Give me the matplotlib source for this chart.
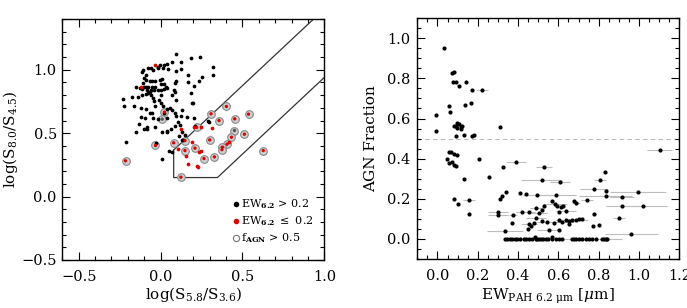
import matplotlib
matplotlib.use("Agg")
import matplotlib.pyplot as plt
from matplotlib.ticker import MultipleLocator
import numpy as np

plt.rcParams['font.family'] = ['DejaVu Serif']
plt.rcParams['mathtext.fontset'] = 'dejavuserif'

# ---------------- Left panel data: IRAC colour-colour ----------------
black_x = [0.096, 0.184, 0.239, 0.122, 0.071, 0.037, 0.024, -0.006, -0.014, -0.061,
           -0.078, -0.108, -0.047, -0.018, 0.012, 0.318, 0.043, 0.092, 0.122, 0.169,
           0.320, 0.255, 0.235, 0.092, 0.088, 0.202, 0.165, -0.092, -0.112, -0.100,
           -0.088, -0.067, -0.051, -0.031, -0.006, 0.008, 0.024, 0.031, -0.037, -0.055,
           -0.076, -0.086, -0.100, -0.112, -0.080, -0.059, -0.039, -0.018, 0.002, 0.018,
           0.002, -0.065, -0.076, -0.092, -0.124, -0.149, -0.108, 0.002, 0.041, 0.080,
           0.090, 0.071, -0.173, -0.137, -0.231, -0.224, -0.165, -0.116, -0.059, -0.047,
           -0.041, -0.010, 0.002, -0.120, -0.092, -0.031, 0.014, 0.039, 0.067, 0.022,
           0.088, 0.129, 0.200, 0.092, 0.037, 0.122, 0.161, -0.067, -0.051, -0.122,
           -0.096, -0.045, -0.016, -0.133, -0.084, -0.153, -0.210, -0.100, -0.084, -0.031,
           0.010, 0.039, 0.061, 0.088, 0.104, 0.120, 0.206, 0.292, 0.210, 0.129,
           0.149, 0.071, 0.051, -0.027, 0.010, 0.296, 0.039, 0.112, 0.129, 0.137,
           0.194, 0.184, 0.092, 0.055]
black_y = [1.126, 1.097, 1.100, 1.061, 1.061, 1.047, 1.039, 1.039, 1.026, 1.013,
           1.013, 1.000, 1.000, 1.013, 1.013, 1.026, 1.008, 0.987, 1.005, 0.958,
           0.961, 0.947, 0.908, 0.908, 0.895, 0.874, 0.900, 0.961, 0.979, 0.937,
           0.921, 0.908, 0.908, 0.913, 0.921, 0.929, 0.887, 0.863, 0.863, 0.861,
           0.863, 0.868, 0.863, 0.847, 0.837, 0.837, 0.842, 0.842, 0.837, 0.847,
           0.803, 0.826, 0.816, 0.808, 0.855, 0.861, 0.895, 0.889, 0.858, 0.842,
           0.821, 0.803, 0.789, 0.789, 0.771, 0.711, 0.711, 0.803, 0.803, 0.776,
           0.750, 0.763, 0.737, 0.697, 0.689, 0.716, 0.711, 0.692, 0.684, 0.658,
           0.658, 0.684, 0.737, 0.632, 0.618, 0.637, 0.626, 0.663, 0.663, 0.626,
           0.618, 0.618, 0.611, 0.574, 0.547, 0.513, 0.434, 0.532, 0.532, 0.547,
           0.513, 0.521, 0.534, 0.553, 0.592, 0.566, 0.618, 0.597, 0.558, 0.447,
           0.487, 0.355, 0.363, 0.426, 0.300, 0.592, 0.511, 0.474, 0.508, 0.447,
           0.737, 0.816, 0.763, 0.700]

red_x = [-0.031, -0.120, 0.122, 0.312, 0.245, 0.194, 0.108, 0.157, 0.167, 0.224,
         0.231, 0.245, 0.235, 0.418, 0.204]
red_y = [1.037, 0.868, 0.532, 0.537, 0.547, 0.434, 0.374, 0.321, 0.258, 0.242,
         0.232, 0.363, 0.355, 0.434, 0.547]

# sources with f_AGN > 0.5 (ringed); centre colour: 1 = red (EW<=0.2), 0 = black
agn_x = [-0.214, -0.031, 0.024, 0.010, 0.080, 0.149, 0.149, 0.210, 0.220, 0.124,
         0.265, 0.300, 0.308, 0.357, 0.329, 0.402, 0.453, 0.451, 0.512, 0.433,
         0.406, 0.378, 0.375, 0.537, 0.627]
agn_y = [0.282, 0.403, 0.666, 0.611, 0.424, 0.442, 0.363, 0.382, 0.545, 0.153,
         0.300, 0.447, 0.653, 0.600, 0.313, 0.711, 0.613, 0.521, 0.492, 0.468,
         0.413, 0.390, 0.370, 0.650, 0.363]
agn_red = [1, 1, 1, 0, 1, 1, 1, 1, 1, 1,
           1, 1, 1, 1, 1, 1, 1, 0, 1, 1,
           1, 1, 1, 1, 1]

# Donley et al. wedge
wedge_x0, wedge_y0, wedge_slope, wedge_off = 0.08, 0.15, 1.21, 0.27

legend_labels = [r'EW$_{\mathbf{6.2}}$ > 0.2', r'EW$_{\mathbf{6.2}}$ $\leq$ 0.2',
                 r'f$_{\mathbf{AGN}}$ > 0.5']

# ---------------- Right panel data: AGN fraction vs EW ----------------
ew = [0.034, 0.074, 0.084, 0.077, 0.090, 0.140, 0.107, 0.173, 0.222, 0.168,
      0.135, -0.006, 0.057, 0.064, -0.006, 0.098, 0.090, 0.115, 0.123, 0.107,
      0.098, 0.115, 0.082, 0.090, 0.131, 0.170, 0.181, 0.308, 0.057, 0.067,
      0.082, 0.095, 0.049, 0.057, 0.074, 0.082, 0.093, 0.206, 0.325, 0.388,
      0.527, 0.517, 0.608, 0.831, 0.806, 0.256, 0.131, 0.082, 0.103, 0.156,
      0.156, 0.338, 0.322, 0.310, 0.412, 0.437, 0.494, 0.587, 0.777, 0.834,
      0.834, 0.914, 0.996, 0.914, 1.021, 0.900, 1.102, 0.962, 0.299, 0.299,
      0.376, 0.368, 0.335, 0.418, 0.454, 0.487, 0.504, 0.520, 0.528, 0.570,
      0.583, 0.595, 0.611, 0.623, 0.636, 0.603, 0.677, 0.686, 0.743, 0.777,
      0.487, 0.520, 0.545, 0.578, 0.603, 0.620, 0.636, 0.653, 0.669, 0.686,
      0.702, 0.719, 0.653, 0.454, 0.462, 0.479, 0.553, 0.603, 0.451, 0.801,
      0.773, 0.570, 0.484,
      0.335, 0.346, 0.358, 0.371, 0.383, 0.396, 0.412, 0.429, 0.441, 0.454,
      0.471, 0.487, 0.495, 0.504, 0.512, 0.524, 0.537, 0.550, 0.570, 0.587,
      0.603, 0.620, 0.669, 0.677, 0.689, 0.702, 0.719, 0.735, 0.752, 0.769,
      0.785, 0.818, 0.826, 0.834, 0.839]
fagn = [0.953, 0.829, 0.834, 0.780, 0.780, 0.780, 0.763, 0.741, 0.741, 0.677,
        0.668, 0.619, 0.660, 0.635, 0.539, 0.580, 0.561, 0.557, 0.564, 0.574,
        0.552, 0.547, 0.561, 0.514, 0.519, 0.511, 0.517, 0.556, 0.434, 0.434,
        0.424, 0.419, 0.398, 0.378, 0.381, 0.370, 0.361, 0.398, 0.358, 0.381,
        0.358, 0.293, 0.286, 0.335, 0.295, 0.308, 0.300, 0.199, 0.175, 0.192,
        0.124, 0.232, 0.212, 0.199, 0.229, 0.225, 0.219, 0.220, 0.248, 0.240,
        0.215, 0.208, 0.232, 0.165, 0.165, 0.104, 0.444, 0.024, 0.136, 0.121,
        0.117, 0.079, 0.038, 0.134, 0.132, 0.154, 0.129, 0.142, 0.162, 0.187,
        0.175, 0.162, 0.159, 0.162, 0.139, 0.134, 0.187, 0.179, 0.195, 0.124,
        0.104, 0.087, 0.082, 0.079, 0.092, 0.082, 0.096, 0.087, 0.092, 0.096,
        0.099, 0.100, 0.076, 0.076, 0.063, 0.079, 0.046, 0.043, 0.049, 0.071,
        0.063, 0.010, 0.010,
        0.0, 0.0, 0.0, 0.0, 0.0, 0.0, 0.0, 0.0, 0.0, 0.0,
        0.0, 0.0, 0.0, 0.0, 0.0, 0.0, 0.0, 0.0, 0.0, 0.0,
        0.0, 0.0, 0.0, 0.0, 0.0, 0.0, 0.0, 0.0, 0.0, 0.0,
        0.0, 0.0, 0.0, 0.0, 0.0]
ew_err = [0.0, 0.0, 0.0, 0.0, 0.0, 0.0, 0.0, 0.01, 0.03, 0.0,
          0.0, 0.0, 0.0, 0.0, 0.0, 0.0, 0.0, 0.0, 0.0, 0.0,
          0.0, 0.0, 0.0, 0.0, 0.0, 0.0, 0.0, 0.0, 0.0, 0.0,
          0.0, 0.0, 0.0, 0.0, 0.0, 0.0, 0.0, 0.0, 0.01, 0.05,
          0.04, 0.10, 0.05, 0.0, 0.03, 0.0, 0.0, 0.0, 0.0, 0.03,
          0.0, 0.0, 0.0, 0.0, 0.0, 0.0, 0.07, 0.10, 0.07, 0.0,
          0.13, 0.06, 0.14, 0.08, 0.12, 0.03, 0.06, 0.13, 0.05, 0.05,
          0.02, 0.0, 0.09, 0.03, 0.03, 0.03, 0.04, 0.0, 0.0, 0.0,
          0.06, 0.0, 0.0, 0.0, 0.05, 0.0, 0.0, 0.02, 0.03, 0.01,
          0.05, 0.0, 0.05, 0.0, 0.0, 0.06, 0.0, 0.0, 0.08, 0.0,
          0.0, 0.0, 0.0, 0.04, 0.0, 0.0, 0.06, 0.0, 0.0, 0.0,
          0.0, 0.0, 0.0,
          0.0, 0.0, 0.0, 0.0, 0.04, 0.0, 0.05, 0.0, 0.0, 0.06,
          0.0, 0.0, 0.05, 0.0, 0.0, 0.0, 0.0, 0.0, 0.0, 0.0,
          0.0, 0.0, 0.0, 0.0, 0.06, 0.0, 0.0, 0.0, 0.0, 0.0,
          0.0, 0.0, 0.0, 0.08, 0.0]
fagn_threshold = 0.5

# ---------------- Figure ----------------
fig = plt.figure(figsize=(6.87, 3.08), dpi=100)
axL = fig.add_axes([0.0907, 0.156, 0.3814, 0.782])
axR = fig.add_axes([0.6074, 0.159, 0.3814, 0.782])

def style(ax):
    ax.tick_params(which='both', direction='in', top=True, right=True,
                   labelsize=10.5, width=0.8)
    ax.tick_params(which='major', length=6)
    ax.tick_params(which='minor', length=3)
    for s in ax.spines.values():
        s.set_linewidth(1.0)

def signed(v, p):
    return ('\u2212' if v < -1e-9 else '') + f'{abs(v):.1f}'

# Left panel
axL.set_xlim(-0.6, 1.0)
axL.set_ylim(-0.5, 1.4)
ms_dot = 2.7
axL.plot(agn_x, agn_y, 'o', ms=5.5, mfc='#cfcfcf', mec='#888888', mew=0.8, zorder=2)
axL.plot(black_x, black_y, 'o', ms=ms_dot, color='black', mew=0, zorder=3)
axL.plot(red_x, red_y, 'o', ms=ms_dot, color='#e00000', mew=0, zorder=3)
agn_c = ['#e00000' if r else '#555555' for r in agn_red]
axL.scatter(agn_x, agn_y, s=ms_dot**2 * 0.8, c=agn_c, linewidths=0, zorder=4)

xa = np.array([wedge_x0, wedge_x0, (wedge_y0 + wedge_off) / wedge_slope, 1.0])
ya = np.array([wedge_slope * wedge_x0 + wedge_off, wedge_y0, wedge_y0,
               wedge_slope * 1.0 - wedge_off])
axL.plot(xa, ya, color='#333333', lw=0.9, zorder=1)
xu = np.array([wedge_x0, (1.4 - wedge_off) / wedge_slope])
axL.plot(xu, wedge_slope * xu + wedge_off, color='#333333', lw=0.9, zorder=1)

axL.xaxis.set_major_locator(MultipleLocator(0.5))
axL.xaxis.set_minor_locator(MultipleLocator(0.1))
axL.yaxis.set_major_locator(MultipleLocator(0.5))
axL.yaxis.set_minor_locator(MultipleLocator(0.1))
style(axL)
axL.tick_params(axis='x', pad=7)
axL.tick_params(axis='y', pad=4)
axL.xaxis.set_major_formatter(matplotlib.ticker.FuncFormatter(signed))
axL.yaxis.set_major_formatter(matplotlib.ticker.FuncFormatter(signed))
axL.set_xlabel(r'log(S$_{5.8}$/S$_{3.6}$)', fontsize=11)
axL.set_ylabel(r'log(S$_{8.0}$/S$_{4.5}$)', fontsize=11)
axL.xaxis.set_label_coords(0.5, -0.105)
axL.yaxis.set_label_coords(-0.16, 0.5)

# legend drawn as markers + text in data coords
leg_x = 0.461
leg_y = [-0.058, -0.19, -0.324]
axL.plot([leg_x], [leg_y[0]], 'o', ms=4, color='black', mew=0)
axL.plot([leg_x], [leg_y[1]], 'o', ms=4, color='#e00000', mew=0)
axL.plot([leg_x], [leg_y[2]], 'o', ms=4.5, mfc='white', mec='#777777', mew=0.8)
for yy, lab in zip(leg_y, legend_labels):
    axL.text(leg_x + 0.028, yy, lab, fontsize=8, va='center', ha='left')

# Right panel
axR.set_xlim(-0.1, 1.2)
axR.set_ylim(-0.1, 1.1)
axR.axhline(fagn_threshold, color='#bdbdbd', lw=0.8, ls=(0, (4, 3)), zorder=1)
axR.errorbar(ew, fagn, xerr=ew_err, fmt='o', ms=3.0, color='black', mew=0,
             ecolor='#bdbdbd', elinewidth=0.8, capsize=1.5, capthick=0.8, zorder=3)
axR.xaxis.set_major_locator(MultipleLocator(0.2))
axR.xaxis.set_minor_locator(MultipleLocator(0.05))
axR.yaxis.set_major_locator(MultipleLocator(0.2))
axR.yaxis.set_minor_locator(MultipleLocator(0.05))
style(axR)
axR.tick_params(axis='x', pad=7)
axR.tick_params(axis='y', pad=5)
axR.xaxis.set_major_formatter(matplotlib.ticker.FuncFormatter(lambda v, p: f'{v:.1f}'))
axR.yaxis.set_major_formatter(matplotlib.ticker.FuncFormatter(lambda v, p: f'{v:.1f}'))
axR.set_xlabel(r'EW$_{\mathrm{PAH\ 6.2\ \mu m}}$ [$\mu$m]', fontsize=11)
axR.set_ylabel('AGN Fraction', fontsize=11)
axR.xaxis.set_label_coords(0.5, -0.115)
axR.yaxis.set_label_coords(-0.15, 0.5)

fig.savefig('out.png', dpi=100)
